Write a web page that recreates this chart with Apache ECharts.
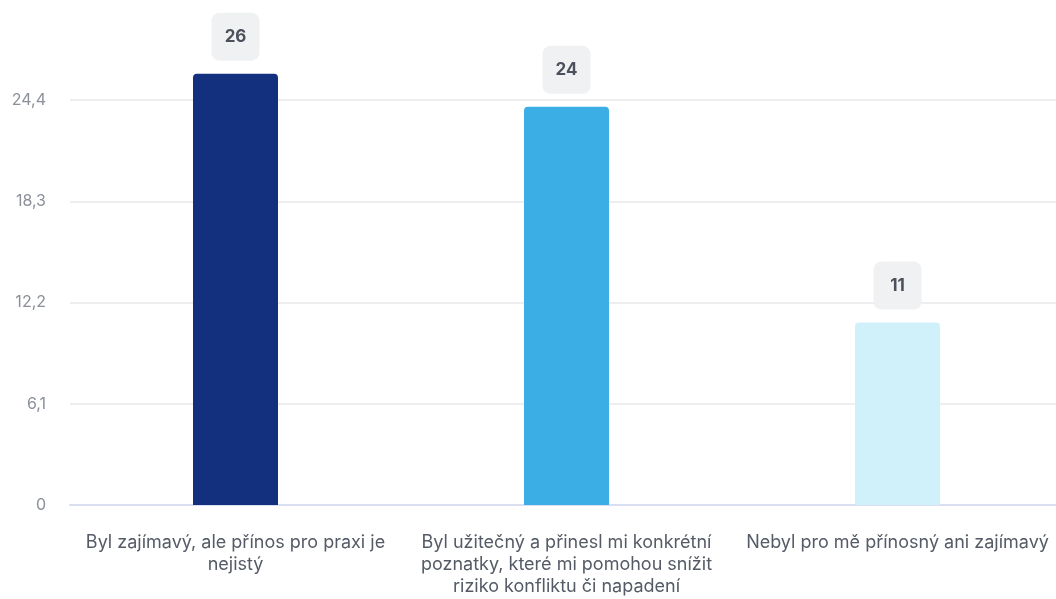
<!DOCTYPE html>
<html>
<head>
<meta charset="utf-8">
<script src="https://cdn.jsdelivr.net/npm/echarts@6/dist/echarts.min.js"></script>
<style>html,body{margin:0;padding:0;background:#fff;}#c{width:1056px;height:599px;}</style>
</head>
<body>
<div id="c"></div>
<script>
const categories = [
  "Byl zajímavý, ale přínos pro praxi je nejistý",
  "Byl užitečný a přinesl mi konkrétní poznatky, které mi pomohou snížit riziko konfliktu či napadení",
  "Nebyl pro mě přínosný ani zajímavý"
];
const values = [26, 24, 11];
const barColors = ["#12307e", "#3caee6", "#d0f1fa"];
const yMin = 0, yMax = 30.5, yInterval = 6.1;

// greedy word wrap measured with the label font
const measureCtx = document.createElement('canvas').getContext('2d');
measureCtx.font = '18px Inter';
function wrap(text, maxW) {
  const words = text.split(' ');
  const lines = [];
  let cur = '';
  for (const w of words) {
    const t = cur ? cur + ' ' + w : w;
    if (cur && measureCtx.measureText(t).width > maxW) { lines.push(cur); cur = w; }
    else cur = t;
  }
  if (cur) lines.push(cur);
  return lines.join('\n');
}

const chart = echarts.init(document.getElementById('c'));
chart.setOption({
  animation: false,
  textStyle: { fontFamily: 'Inter' },
  grid: { left: 70, width: 993, top: -1, bottom: 94, containLabel: false, outerBoundsMode: 'none' },
  xAxis: {
    type: 'category',
    data: categories,
    axisLine: { show: true, lineStyle: { color: '#d9def0', width: 2 } },
    axisTick: { show: false },
    axisLabel: {
      interval: 0,
      color: '#555b66',
      fontSize: 18,
      fontFamily: 'Inter',
      lineHeight: 22,
      margin: 27,
      hideOverlap: false,
      formatter: v => wrap(v, 310)
    }
  },
  yAxis: {
    type: 'value',
    min: yMin, max: yMax, interval: yInterval,
    axisLine: { show: false },
    axisTick: { show: false },
    splitLine: { showMaxLine: false, lineStyle: { color: '#e8e9ec', width: 1.5 } },
    axisLabel: {
      color: '#8a8f99', fontSize: 16, fontFamily: 'Inter', margin: 24,
      showMaxLabel: false,
      formatter: v => (Math.round(v * 10) / 10).toString().replace('.', ',')
    }
  },
  series: [{
    type: 'bar',
    barWidth: 85,
    data: values.map((v, i) => ({ value: v, itemStyle: { color: barColors[i] } })),
    itemStyle: { borderRadius: [4, 4, 0, 0] },
    label: {
      show: true,
      position: 'top',
      distance: 13,
      backgroundColor: '#f0f1f2',
      borderRadius: 8,
      padding: [15, 0],
      width: 48,
      align: 'center',
      lineHeight: 18,
      color: '#4b505c',
      fontWeight: 'bold',
      fontSize: 17,
      fontFamily: 'Inter'
    }
  }]
});
</script>
</body>
</html>
